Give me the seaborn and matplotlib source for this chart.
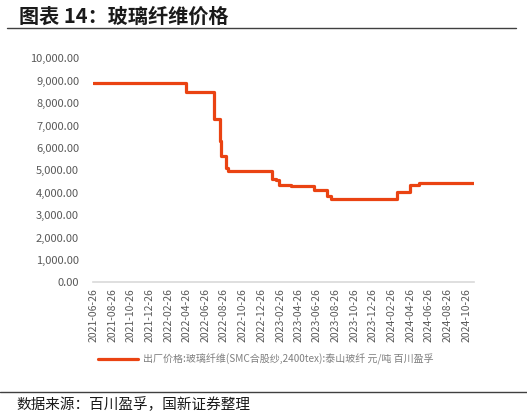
import matplotlib
matplotlib.use('Agg')
import matplotlib.pyplot as plt
import matplotlib.dates as mdates
from matplotlib.lines import Line2D
from matplotlib.ticker import FuncFormatter
import seaborn as sns
import pandas as pd

# ==========================================
# 数据：玻璃纤维出厂价格（阶梯变化点）
# ==========================================
change_dates = ['2021-06-24', '2022-04-24', '2022-07-24', '2022-08-14', '2022-08-18',
                '2022-09-02', '2022-09-10', '2023-01-29', '2023-02-11', '2023-02-22',
                '2023-04-01', '2023-06-17', '2023-07-29', '2023-08-11', '2024-03-13',
                '2024-04-27', '2024-05-24', '2024-11-20']
prices = [8900, 8500, 7300, 6320, 5650,
          5100, 4950, 4620, 4560, 4350,
          4280, 4100, 3850, 3720, 4030,
          4330, 4420, 4420]
tick_dates = pd.date_range('2021-06-01', '2024-10-01', freq='2MS') + pd.Timedelta(days=25)
series_name = '出厂价格:玻璃纤维(SMC合股纱,2400tex):泰山玻纤 元/吨 百川盈孚'

df = pd.DataFrame({'date': pd.to_datetime(change_dates), 'price': prices})

sns.set_style('white')
plt.rcParams['font.family'] = ['Noto Sans CJK SC', 'DejaVu Sans']
plt.rcParams['axes.unicode_minus'] = False

fig = plt.figure(figsize=(5.27, 4.19), dpi=100)
ax = fig.add_axes([0.1765, 0.326, 0.7225, 0.535])

sns.lineplot(data=df, x='date', y='price', ax=ax, color='#EA4312', linewidth=2.3,
             drawstyle='steps-post', label=series_name)

ax.set_ylim(0, 10000)
ax.set_yticks(range(0, 10001, 1000))
ax.yaxis.set_major_formatter(FuncFormatter(lambda v, p: f'{v:,.2f}'))
ax.set_xlim(df['date'].iloc[0], df['date'].iloc[-1])
ax.set_xticks(tick_dates)
ax.xaxis.set_major_formatter(mdates.DateFormatter('%Y-%m-%d'))
ax.tick_params(axis='x', labelrotation=90, labelsize=7.5, colors='#595959', length=0, pad=4)
ax.tick_params(axis='y', labelsize=8, colors='#595959', length=0, pad=10)
ax.set_xlabel('')
ax.set_ylabel('')
for s in ['top', 'right', 'left']:
    ax.spines[s].set_visible(False)
ax.spines['bottom'].set_color('#D9D9D9')
ax.spines['bottom'].set_linewidth(1.2)

leg = ax.legend(loc='center', bbox_to_anchor=(0.455, -0.342), frameon=False,
                fontsize=7.2, handlelength=4.0, handletextpad=0.5)
for t in leg.get_texts():
    t.set_color('#7F7F7F')

# 标题与注释
fig.text(0.036, 0.962, '图表 14：玻璃纤维价格', fontsize=14.5, fontweight='bold',
         style='italic', va='center', ha='left', color='#1a1a1a')
fig.add_artist(Line2D([0.013, 0.98], [0.932, 0.932], color='#404040', linewidth=1.0))
fig.add_artist(Line2D([0.0, 1.0], [0.064, 0.064], color='#404040', linewidth=1.0))
fig.text(0.032, 0.033, '数据来源：百川盈孚，国新证券整理', fontsize=10.5,
         va='center', ha='left', color='#1a1a1a')

fig.savefig('out.png', dpi=100)
